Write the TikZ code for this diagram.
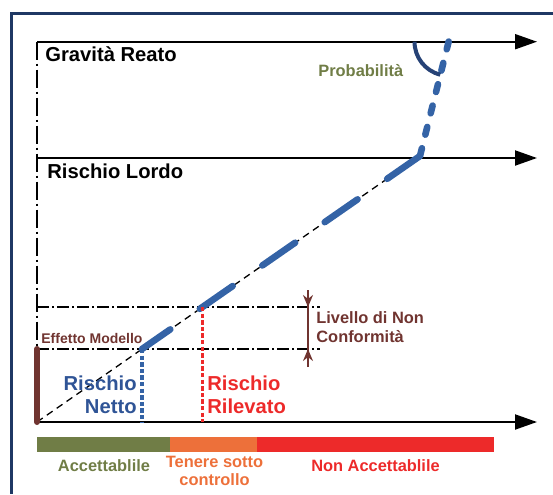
\documentclass[tikz,border=0pt]{standalone}
\usepackage{fontspec}
\setmainfont{Liberation Sans}
\usetikzlibrary{positioning,arrows.meta}

\definecolor{frameblue}{RGB}{31,56,100}
\definecolor{lineblue}{RGB}{52,99,166}
\definecolor{arcblue}{RGB}{38,66,118}
\definecolor{nettoblue}{RGB}{47,84,150}
\definecolor{accgreen}{RGB}{112,125,70}
\definecolor{ctrlorange}{RGB}{237,112,58}
\definecolor{nonred}{RGB}{237,42,42}
\definecolor{modbrown}{RGB}{112,52,48}

\begin{document}
\begin{tikzpicture}[x = 0.5pt, y = -0.5pt, > = {Triangle[length = 11pt, width = 7.5pt]},
axis/.style={ draw, line width = 1pt, -> },
guide/.style={ line width = 0.7pt, dash pattern = on 6pt off 1.5pt on 1pt off 1.5pt },
longguide/.style={ line width = 0.8pt, dash pattern = on 9pt off 2pt on 1pt off 2pt },
thindash/.style={ line width = 0.65pt, dash pattern = on 3.5pt off 2.5pt },
riskline/.style={ lineblue, line width = 3.3pt, line cap = round },
level/.style={ line width = 1.6pt, dash pattern = on 2.2pt off 1.1pt },
barseg/.style={ rectangle, inner sep = 0pt, outer sep = 0pt, minimum height = 7.75pt },
lab/.style={ inner sep = 0pt, font = \bfseries\fontsize{8.2}{9}\selectfont, align = center },
biglab/.style={ inner sep = 0pt, font = \bfseries\fontsize{10.1}{11.5}\selectfont }
]
\useasboundingbox (0,0) rectangle (553,494);
%frame
\draw [frameblue, line width = 1.5pt] (553,13) -| (11,494);

%axes and guides
\coordinate (top) at (37,41.7);
\coordinate (topend) at (537,41.7);
\coordinate (lordo) at (37,158);
\coordinate (lordoend) at (537,158);
\coordinate (o) at (37,422);
\coordinate (oend) at (537,422);
\draw [axis] (top) -- (topend);
\draw [axis] (lordo) -- (lordoend);
\draw [axis] (o) -- (oend);
\draw [longguide] (top) -- (o);

\coordinate (nc) at (37,307);
\coordinate (ncend) at (320,307);
\coordinate (eff) at (37,349);
\coordinate (effend) at (320,349);
\draw [guide] (nc) -- (ncend);
\draw [guide] (eff) -- (effend);

%risk line
\coordinate (corner) at (420,156);
\coordinate (probc) at (448.5,41.7);
\coordinate (probtop) at (449.3,39);
\coordinate (netto) at (142,349);
\coordinate (nettobase) at (142,422);
\coordinate (ril) at (202.6,307);
\coordinate (rilbase) at (202.6,422);
\draw [thindash] (o) -- (corner);
\draw [riskline, dash pattern = on 20pt off 18pt] (corner) -- (netto);
\draw [riskline, dash pattern = on 4pt off 7pt] (corner) -- (probtop);
\draw [arcblue, line width = 2pt] (probc) ++(-34,0) arc [start angle = 180, end angle = 104, radius = 34];

\draw [level, lineblue] (netto) -- (nettobase);
\draw [level, nonred] (ril) -- (rilbase);
\draw [modbrown, line width = 3pt, line cap = round] (eff) -- (o);

%level of non conformity
\coordinate (ncup) at (308,290);
\coordinate (nchi) at (308,307);
\coordinate (nclo) at (308,349);
\coordinate (ncdown) at (308,367);
\draw [modbrown, line width = 0.8pt] (ncup) -- (ncdown);
\draw [modbrown, line width = 0.8pt, -{Stealth[length = 6pt, width = 5pt]}] (ncup) -- (nchi);
\draw [modbrown, line width = 0.8pt, -{Stealth[length = 6pt, width = 5pt]}] (ncdown) -- (nclo);

%texts
\node (grav) [biglab, anchor = base west] at (45,61) {Gravità Reato};
\node (lordolab) [biglab, anchor = base west] at (47,178) {Rischio Lordo};
\node (prob) [lab, accgreen, anchor = base west] at (318,76) {Probabilità};
\node (efflab) [inner sep = 0pt, modbrown, font = \bfseries\fontsize{7}{9}\selectfont, anchor = base west] at (41,343) {Effetto Modello};
\node (nclab) [lab, modbrown, align = left, font = \bfseries\fontsize{8.2}{9.5}\selectfont, anchor = base west] at (316,342) {Livello di Non\\Conformità};
\node (nettolab) [biglab, nettoblue, align = right, anchor = base east] at (137,413) {Rischio\\Netto};
\node (rillab) [biglab, nonred, align = left, anchor = base west] at (207,413) {Rischio\\Rilevato};

%scale bar
\node (acc) [barseg, fill = accgreen, minimum width = 66.5pt, anchor = north west] at (37,436.5) {};
\node (ctrl) [barseg, fill = ctrlorange, minimum width = 43.5pt, right = 0pt of acc] {};
\node (nonacc) [barseg, fill = nonred, minimum width = 118.5pt, right = 0pt of ctrl] {};
\node (acclab) [lab, accgreen, anchor = base] at (104,471) {Accettablile};
\node (ctrllab) [lab, ctrlorange, anchor = base] at (214.5,485) {Tenere sotto\\controllo};
\node (nonlab) [lab, nonred, anchor = base] at (375.5,471) {Non Accettablile};
\end{tikzpicture}
\end{document}
